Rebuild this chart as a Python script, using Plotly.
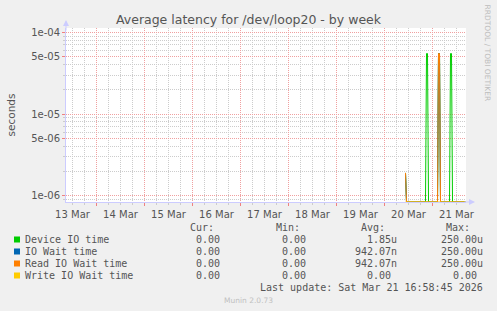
import plotly.graph_objects as go
import pandas as pd

# ---------------- data ----------------
title_text = "Average latency for /dev/loop20 - by week"
series_names = ["Device IO time", "IO Wait time", "Read IO Wait time", "Write IO Wait time"]
series_colors = ["#00CC00", "#0066B3", "#FF8000", "#FFCC00"]

times = [
    "2026-03-20 10:30", "2026-03-20 11:00",
    "2026-03-20 20:30", "2026-03-20 21:00", "2026-03-20 21:30", "2026-03-20 22:00",
    "2026-03-21 02:30", "2026-03-21 03:00", "2026-03-21 03:30", "2026-03-21 04:00",
    "2026-03-21 08:30", "2026-03-21 09:00", "2026-03-21 09:30", "2026-03-21 10:00",
    "2026-03-21 16:30",
]
device_io = [1.9e-6, 0, 0, 5.5e-5, 5.5e-5, 0, 0, 5.5e-5, 5.5e-5, 0, 0, 5.5e-5, 5.5e-5, 0, 0]
io_wait = [1.9e-6, 0, 0, 0, 0, 0, 0, 5.5e-5, 5.5e-5, 0, 0, 0, 0, 0, 0]
read_wait = [1.9e-6, 0, 0, 0, 0, 0, 0, 5.5e-5, 5.5e-5, 0, 0, 0, 0, 0, 0]
write_wait = [0, 0, 0, 0, 0, 0, 0, 0, 0, 0, 0, 0, 0, 0, 0]

cur_vals = [0.0, 0.0, 0.0, 0.0]
min_vals = [0.0, 0.0, 0.0, 0.0]
avg_vals = [1.85e-6, 942.07e-9, 942.07e-9, 0.0]
max_vals = [250.00e-6, 250.00e-6, 250.00e-6, 0.0]
col_headers = ["Cur:", "Min:", "Avg:", "Max:"]
last_update = "Last update: Sat Mar 21 16:58:45 2026"
footer = "Munin 2.0.73"
side_text = "RRDTOOL / TOBI OETIKER"
y_label = "seconds"

x_range = ["2026-03-13 08:45", "2026-03-21 16:45"]
y_log_range = [-6.077, -3.947]
y_major = [1e-6, 5e-6, 1e-5, 5e-5, 1e-4]
y_major_text = ["1e-06", "5e-06", "1e-05", "5e-05", "1e-04"]
y_minor = [9e-7, 2e-6, 3e-6, 4e-6, 6e-6, 7e-6, 8e-6, 9e-6,
           2e-5, 3e-5, 4e-5, 6e-5, 7e-5, 8e-5, 9e-5]

# ---------------- layout constants ----------------
W, H = 497, 311
L, R, T, B = 66, 31, 28, 109
PW, PH = W - L - R, H - T - B
BG = "#F0F0F0"
TXT = "#555555"
MGRID = "#f0a0a0"
GRID = "#cccccc"
AXIS = "#ccccff"
MONO = "DejaVu Sans Mono, monospace"
SANS = "DejaVu Sans, sans-serif"

# 6-hourly minor grid (skipping midnights, which carry the major grid)
x_minor = [t for t in pd.date_range("2026-03-13 12:00", "2026-03-21 18:00", freq="6h")
           if t.hour != 0]


def px(x):
    return (x - L) / PW


def py(y):
    return (H - B - y) / PH


def si(v):
    if v == 0:
        return "%.2f\u00a0" % v
    for f, s in [(1e-9, "n"), (1e-6, "u"), (1e-3, "m"), (1, "\u00a0")]:
        if abs(v) < f * 1000:
            return "%.2f%s" % (v / f, s)
    return "%.2f\u00a0" % v


floor = 10 ** y_log_range[0]

fig = go.Figure()
for name, col, vals in zip(series_names, series_colors,
                           [device_io, io_wait, read_wait, write_wait]):
    fig.add_trace(go.Scatter(
        x=times, y=[v if v > 0 else floor for v in vals], name=name,
        mode="lines", line=dict(color=col, width=1), hoverinfo="skip",
        showlegend=False))

fig.update_layout(
    width=W, height=H, margin=dict(l=L, r=R, t=T, b=B, pad=0),
    paper_bgcolor=BG, plot_bgcolor="#FFFFFF",
    font=dict(family=SANS, size=10, color=TXT),
    title=dict(text=title_text, x=0.5, xref="container", xanchor="center",
               y=1 - 19.3 / H, yref="container", yanchor="middle",
               font=dict(family=SANS, size=12.5, color=TXT)),
    showlegend=False,
)

fig.update_xaxes(
    type="date", range=x_range, tick0="2026-03-13", dtick=86400000,
    tickformat="%d %b", ticklabelmode="period",
    showgrid=True, gridcolor=MGRID, griddash="1px,1px", gridwidth=1,
    ticks="outside", ticklen=3, tickcolor="#f08080",
    showline=True, linecolor=AXIS, linewidth=1, zeroline=False,
    layer="below traces", tickfont=dict(family=SANS, size=10, color=TXT),
    minor=dict(tickmode="array", tickvals=x_minor, showgrid=True,
               gridcolor=GRID, griddash="1px,1px", gridwidth=1,
               ticks="outside", ticklen=2, tickcolor=GRID),
    fixedrange=True,
)
fig.update_yaxes(
    type="log", range=y_log_range, tickmode="array", tickvals=y_major,
    ticktext=y_major_text,
    showgrid=True, gridcolor=MGRID, griddash="1px,1px", gridwidth=1,
    ticks="outside", ticklen=3, tickcolor="#f08080",
    showline=True, linecolor=AXIS, linewidth=1, zeroline=False,
    layer="below traces", tickfont=dict(family=SANS, size=10, color=TXT),
    minor=dict(tickmode="array", tickvals=y_minor, showgrid=True,
               gridcolor=GRID, griddash="1px,1px", gridwidth=1,
               ticks="outside", ticklen=2, tickcolor=GRID),
    fixedrange=True,
)

ann = []
# axis arrows
ann.append(dict(x=0, y=py(20), xref="paper", yref="paper", ax=0, ay=12,
                showarrow=True, arrowhead=2, arrowsize=1.2, arrowwidth=1,
                arrowcolor=AXIS, text=""))
ann.append(dict(x=px(475), y=0, xref="paper", yref="paper", ax=-12, ay=0,
                showarrow=True, arrowhead=2, arrowsize=1.2, arrowwidth=1,
                arrowcolor=AXIS, text=""))
# y label
ann.append(dict(x=px(10.5), y=0.5, xref="paper", yref="paper", text=y_label,
                textangle=-90, showarrow=False, xanchor="center", yanchor="middle",
                font=dict(family=SANS, size=10.5, color=TXT)))
# side text
ann.append(dict(x=px(487.5), y=py(53), xref="paper", yref="paper", text=side_text,
                textangle=90, showarrow=False, xanchor="center", yanchor="middle",
                font=dict(family=SANS, size=7.5, color="#bdbdbd")))
# footer
ann.append(dict(x=px(248), y=py(300), xref="paper", yref="paper", text=footer,
                showarrow=False, xanchor="center", yanchor="middle",
                font=dict(family=SANS, size=7.5, color="#c0c0c0")))

mono = dict(family=MONO, size=10, color=TXT)
header_x = [190, 275.5, 361, 446]
for hx, h in zip(header_x, col_headers):
    ann.append(dict(x=px(hx), y=py(227.2), xref="paper", yref="paper", text=h,
                    showarrow=False, xanchor="left", yanchor="middle",
                    borderpad=0, borderwidth=0, font=mono))

col_right = [226, 312.4, 397.4, 483.4]
shapes = []
for i, name in enumerate(series_names):
    yc = 239.2 + 12 * i
    shapes.append(dict(type="rect", xref="paper", yref="paper",
                       x0=px(14), x1=px(20), y0=py(yc + 3.3), y1=py(yc - 2.7),
                       fillcolor=series_colors[i], line=dict(width=0)))
    ann.append(dict(x=px(25.3), y=py(yc), xref="paper", yref="paper", text=name,
                    showarrow=False, xanchor="left", yanchor="middle",
                    borderpad=0, borderwidth=0, font=mono))
    for cx, vals in zip(col_right, [cur_vals, min_vals, avg_vals, max_vals]):
        ann.append(dict(x=px(cx), y=py(yc), xref="paper", yref="paper",
                        text=si(vals[i]), showarrow=False, xanchor="right",
                        yanchor="middle", borderpad=0, borderwidth=0, font=mono))

ann.append(dict(x=px(483.4), y=py(287.5), xref="paper", yref="paper",
                text=last_update, showarrow=False, xanchor="right",
                yanchor="middle", borderpad=0, borderwidth=0, font=mono))

fig.update_layout(annotations=ann, shapes=shapes)
fig.write_html("out.html", config={"displayModeBar": False, "staticPlot": True})
